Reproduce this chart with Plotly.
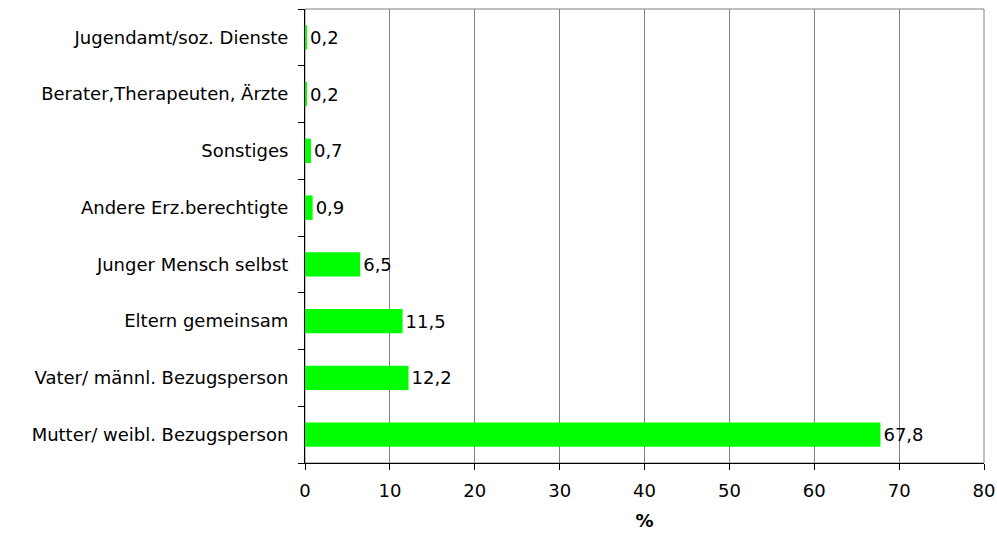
import plotly.graph_objects as go

# Categories listed bottom to top as they appear on the y axis
categories = [
    "Mutter/ weibl. Bezugsperson",
    "Vater/ männl. Bezugsperson",
    "Eltern gemeinsam",
    "Junger Mensch selbst",
    "Andere Erz.berechtigte",
    "Sonstiges",
    "Berater,Therapeuten, Ärzte",
    "Jugendamt/soz. Dienste",
]
values = [67.8, 12.2, 11.5, 6.5, 0.9, 0.7, 0.2, 0.2]
x_ticks = [0, 10, 20, 30, 40, 50, 60, 70, 80]

labels = [f"{v:.1f}".replace(".", ",") for v in values]

font_family = "DejaVu Sans, Arial, sans-serif"

fig = go.Figure(
    go.Bar(
        y=categories,
        x=values,
        orientation="h",
        marker=dict(color="#00FF00", line=dict(width=0)),
        width=0.43,
        text=labels,
        textposition="outside",
        textfont=dict(family=font_family, size=18, color="black"),
        cliponaxis=False,
    )
)

fig.update_layout(
    width=997,
    height=536,
    margin=dict(l=305, r=13, t=9, b=73),
    paper_bgcolor="white",
    plot_bgcolor="white",
    showlegend=False,
    font=dict(family=font_family, size=18, color="black"),
    shapes=[
        dict(
            type="rect", xref="paper", yref="paper",
            x0=0, y0=0, x1=1, y1=1,
            line=dict(color="#808080", width=1),
            layer="below",
        )
    ],
)

fig.update_xaxes(
    range=[0, 80],
    tickvals=x_ticks,
    ticks="outside",
    ticklen=6,
    tickcolor="black",
    showline=True,
    linecolor="black",
    linewidth=1,
    showgrid=True,
    gridcolor="#808080",
    gridwidth=1,
    zeroline=False,
    automargin=False,
    tickfont=dict(size=18),
    ticklabelstandoff=5,
    title=dict(text="<b>%</b>", font=dict(size=18), standoff=14),
)

fig.update_yaxes(
    categoryorder="array",
    categoryarray=categories,
    tickson="boundaries",
    ticks="outside",
    ticklen=6,
    tickcolor="black",
    showline=True,
    linecolor="black",
    linewidth=1,
    showgrid=False,
    zeroline=False,
    automargin=False,
    tickfont=dict(size=18),
    ticklabelstandoff=12,
)

fig.write_html("out.html")
